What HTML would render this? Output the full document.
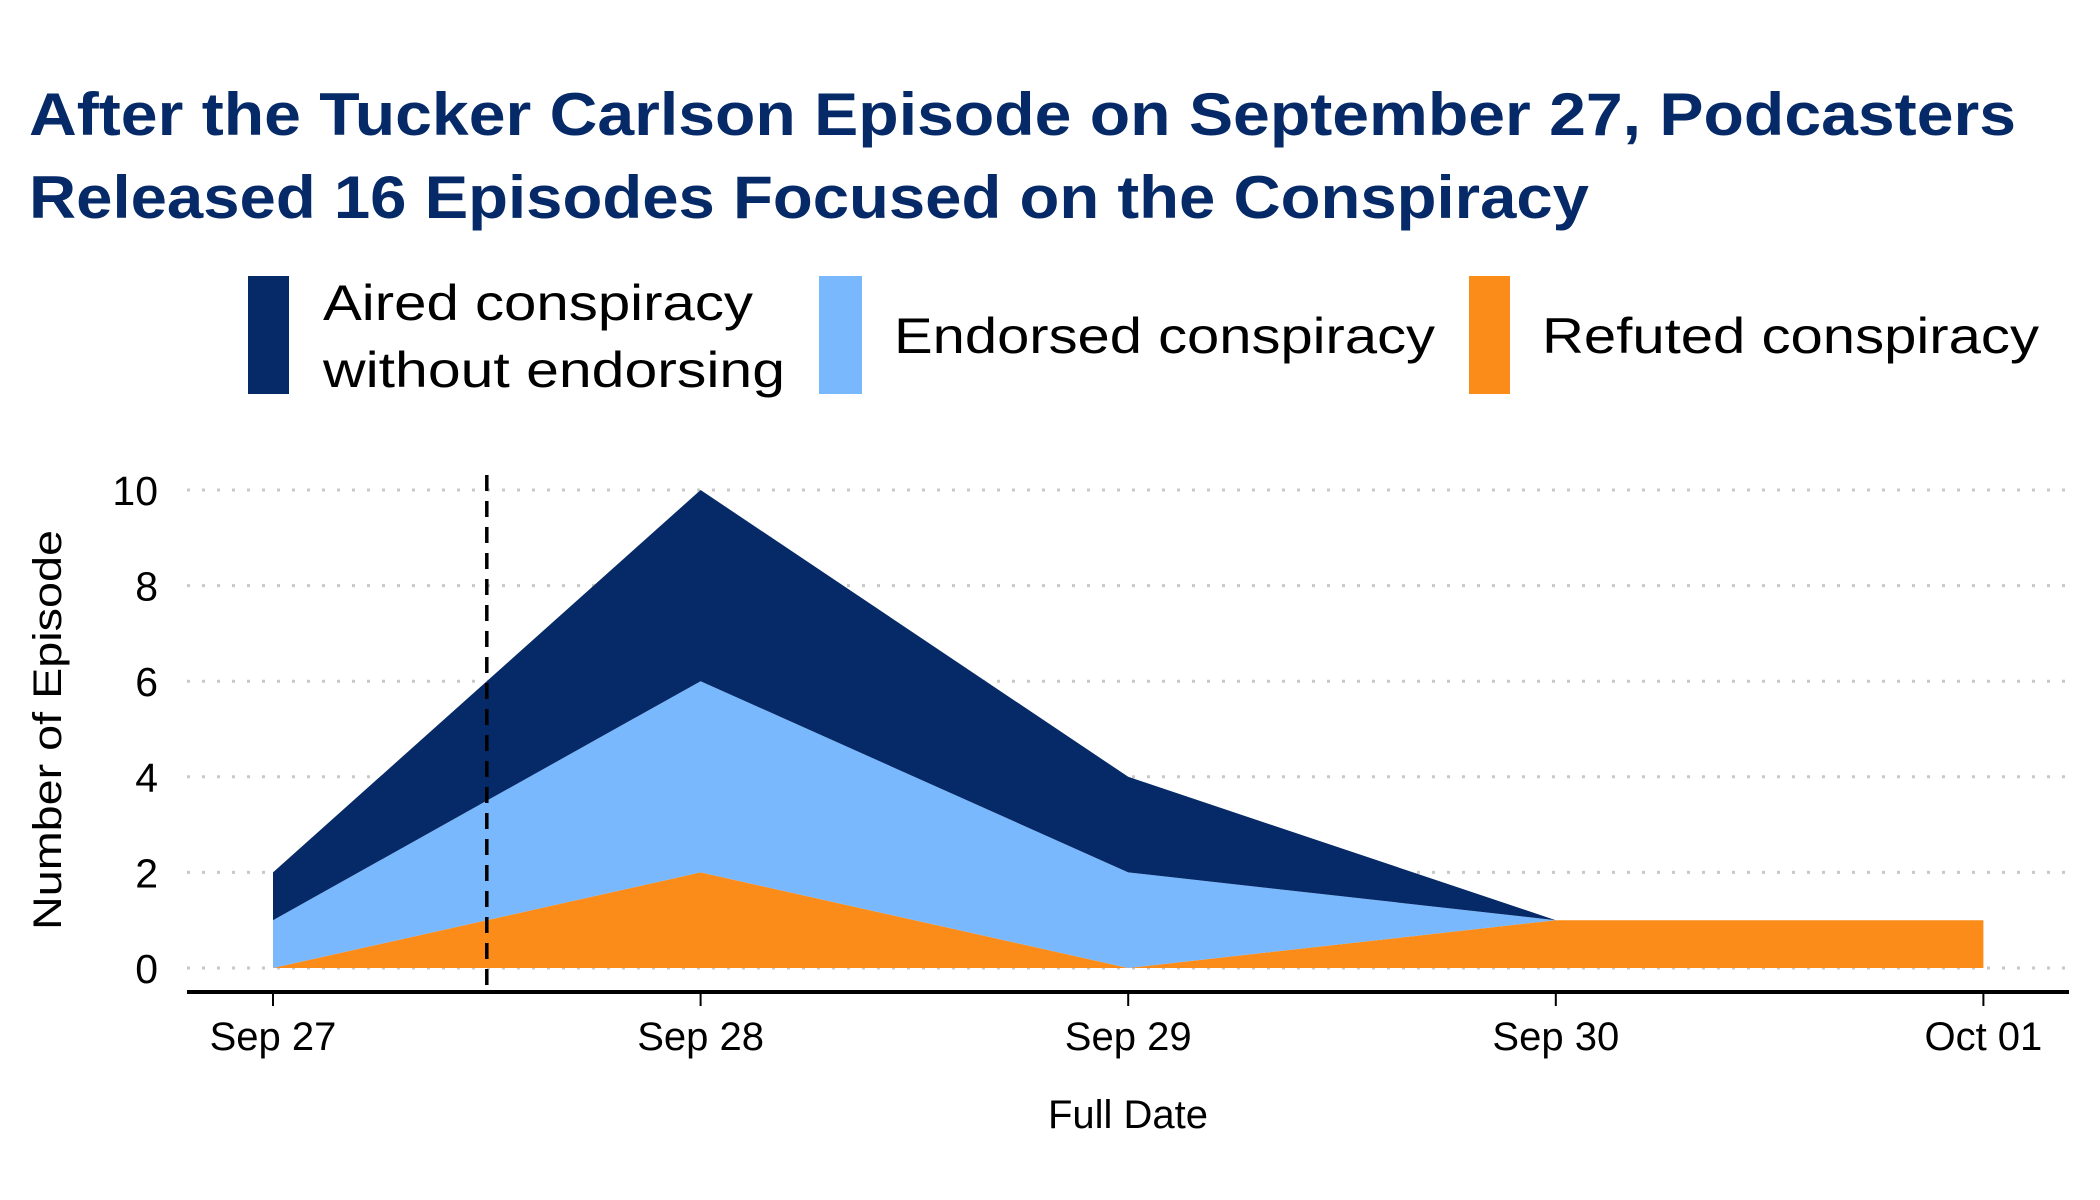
<!DOCTYPE html>
<html><head><meta charset="utf-8"><style>
html,body{margin:0;padding:0;background:#fff;}
svg{display:block;font-family:"Liberation Sans",sans-serif;}
</style></head><body>
<svg id="chart" width="2100" height="1200" viewBox="0 0 2100 1200">
<g fill="#062a67" font-weight="bold" font-size="60">
<text x="29" y="135" textLength="1987" lengthAdjust="spacingAndGlyphs">After the Tucker Carlson Episode on September 27, Podcasters</text>
<text x="29" y="218" textLength="1560" lengthAdjust="spacingAndGlyphs">Released 16 Episodes Focused on the Conspiracy</text>
</g>
<g font-size="50" fill="#000">
<rect x="248" y="276" width="41" height="118" fill="#062a67"/>
<text x="323" y="320" textLength="430" lengthAdjust="spacingAndGlyphs">Aired conspiracy</text>
<text x="323" y="387" textLength="462" lengthAdjust="spacingAndGlyphs">without endorsing</text>
<rect x="819" y="276" width="43" height="118" fill="#7ab8fd"/>
<text x="894" y="353" textLength="541" lengthAdjust="spacingAndGlyphs">Endorsed conspiracy</text>
<rect x="1469" y="276" width="41" height="118" fill="#fc8c19"/>
<text x="1542" y="353" textLength="497" lengthAdjust="spacingAndGlyphs">Refuted conspiracy</text>
</g>
<g id="grid"></g>
<g id="areas"></g>
<g id="axes"></g>
<text x="0" y="0" transform="translate(61,730) rotate(-90)" text-anchor="middle" font-size="40" textLength="400" lengthAdjust="spacingAndGlyphs" fill="#000">Number of Episode</text>
<text x="1128" y="1128" text-anchor="middle" font-size="40" fill="#000">Full Date</text>
</svg>
<script>
const categories = ["Sep 27","Sep 28","Sep 29","Sep 30","Oct 01"];
const refuted = [0,2,0,1,1];
const endorsed = [1,4,2,0,0];
const aired = [1,4,2,0,0];
const yTicks = [0,2,4,6,8,10];
const markerX = 0.5;

const NS = "http://www.w3.org/2000/svg";
const x0 = 273, dx = 427.6, yBase = 968, yUnit = 47.8;
const xs = i => x0 + i * dx;
const ys = v => yBase - v * yUnit;
function mk(tag, attrs, parent){const e=document.createElementNS(NS,tag);for(const k in attrs)e.setAttribute(k,attrs[k]);parent.appendChild(e);return e;}

const grid = document.getElementById('grid');
yTicks.forEach(t=>{
  const l = mk('line',{x1:187,x2:2069,y1:ys(t),y2:ys(t),stroke:'#c8c8c8','stroke-width':3,'stroke-dasharray':'3 12'},grid);
  
  
  const tx = mk('text',{x:158,y:ys(t)+15,'text-anchor':'end','font-size':41,fill:'#000'},grid);
  tx.textContent = t;
  
  
});

const areas = document.getElementById('areas');
const layers = [[refuted,'#fc8c19','area-refuted'],[endorsed,'#7ab8fd','area-endorsed'],[aired,'#062a67','area-aired']];
let base = categories.map(()=>0);
layers.forEach(([vals,color,name])=>{
  const top = base.map((b,i)=>b+vals[i]);
  let pts = top.map((v,i)=>xs(i)+','+ys(v));
  for(let i=base.length-1;i>=0;i--) pts.push(xs(i)+','+ys(base[i]));
  const p = mk('polygon',{points:pts.join(' '),fill:color},areas);
  
  
  base = top;
});

const axes = document.getElementById('axes');
const ax = mk('line',{x1:187,x2:2069,y1:992,y2:992,stroke:'#000','stroke-width':4},axes);


categories.forEach((c,i)=>{
  const t = mk('line',{x1:xs(i),x2:xs(i),y1:992,y2:1006,stroke:'#000','stroke-width':2},axes);
  
  
  const tx = mk('text',{x:xs(i),y:1050,'text-anchor':'middle','font-size':40,fill:'#000'},axes);
  tx.textContent = c;
  
  
});
const dl = mk('line',{x1:xs(markerX),x2:xs(markerX),y1:475,y2:992,stroke:'#000','stroke-width':3.5,'stroke-dasharray':'16 10'},axes);


</script>
</body></html>
